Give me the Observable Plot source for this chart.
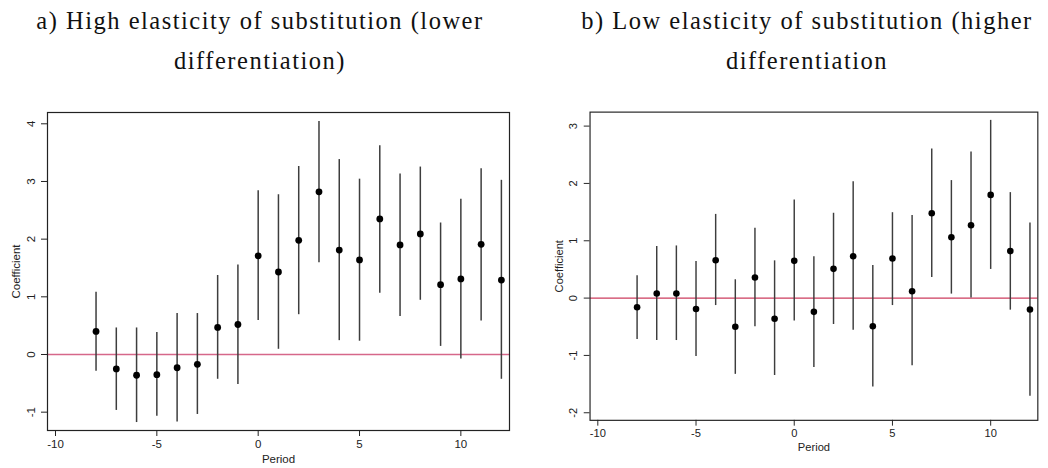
<!DOCTYPE html>
<html>
<head>
<meta charset="utf-8">
<script src="https://cdn.jsdelivr.net/npm/d3@7"></script>
<script src="https://cdn.jsdelivr.net/npm/@observablehq/plot@0.6"></script>
<style>
  html, body { margin: 0; padding: 0; background: #fff; }
  body { width: 1048px; height: 468px; overflow: hidden; position: relative; }
  .title { position: absolute; top: 1px; font-family: "Liberation Serif", serif; font-size: 24.5px;
           line-height: 40px; letter-spacing: 1.5px; text-align: center; color: #111; white-space: nowrap; }
  .panel { position: absolute; top: 100px; }
</style>
</head>
<body>
<div class="title" id="tA" style="left:0px;width:520px;">a) High elasticity of substitution (lower<br>differentiation)</div>
<div class="title" id="tB" style="left:544px;width:526px;">b) Low elasticity of substitution (higher<br>differentiation</div>
<div class="panel" id="pA" style="left:0px;"></div>
<div class="panel" id="pB" style="left:544px;"></div>
<script>
const periods = [-8,-7,-6,-5,-4,-3,-2,-1,0,1,2,3,4,5,6,7,8,9,10,11,12];

// Panel a) High elasticity of substitution
const aEst = [0.40,-0.25,-0.36,-0.35,-0.23,-0.17,0.47,0.52,1.71,1.43,1.98,2.82,1.81,1.64,2.35,1.90,2.09,1.21,1.31,1.91,1.29];
const aLo  = [-0.29,-0.97,-1.18,-1.07,-1.17,-1.04,-0.43,-0.52,0.59,0.09,0.69,1.59,0.24,0.23,1.06,0.66,0.94,0.14,-0.08,0.58,-0.43];
const aHi  = [1.08,0.46,0.46,0.38,0.71,0.71,1.37,1.55,2.84,2.77,3.26,4.04,3.38,3.04,3.62,3.13,3.25,2.28,2.69,3.22,3.02];

// Panel b) Low elasticity of substitution
const bEst = [-0.16,0.08,0.08,-0.19,0.66,-0.50,0.36,-0.36,0.65,-0.24,0.51,0.73,-0.49,0.69,0.12,1.48,1.06,1.27,1.80,0.82,-0.20];
const bLo  = [-0.72,-0.74,-0.74,-1.02,-0.13,-1.33,-0.50,-1.35,-0.40,-1.21,-0.46,-0.56,-1.55,-0.13,-1.18,0.36,0.07,0.00,0.50,-0.21,-1.71];
const bHi  = [0.39,0.90,0.91,0.64,1.46,0.32,1.22,0.65,1.71,0.72,1.48,2.03,0.57,1.49,1.44,2.60,2.05,2.55,3.10,1.84,1.31];

const xTicks = [-10,-5,0,5,10];
const aYTicks = [-1,0,1,2,3,4];
const bYTicks = [-2,-1,0,1,2,3];

function panel(est, lo, hi, yDomain, yTicks, zeroColor, zeroWidth) {
  const data = periods.map((p, i) => ({period: p, est: est[i], lo: lo[i], hi: hi[i]}));
  return Plot.plot({
    width: 520,
    height: 368,
    marginTop: 12,
    marginBottom: 38,
    marginLeft: 47,
    marginRight: 11,
    style: {fontFamily: "Liberation Sans", fontSize: "11.5px", color: "#222", background: "transparent"},
    x: {domain: [-10.395, 12.40]},
    y: {domain: yDomain},
    marks: [
      Plot.ruleY([0], {stroke: zeroColor, strokeWidth: zeroWidth}),
      Plot.ruleX(data, {x: "period", y1: "lo", y2: "hi", stroke: "#3d3d3d", strokeWidth: 1.5}),
      Plot.dot(data, {x: "period", y: "est", r: 3.4, fill: "#000", stroke: "none"}),
      Plot.frame({stroke: "#222", strokeWidth: 1.2}),
      Plot.axisX({ticks: xTicks, tickFormat: d => String(d), tickSize: 6, tickPadding: 3, label: "Period", labelAnchor: "center", labelOffset: 32, labelArrow: "none"}),
      Plot.axisY({ticks: yTicks, tickFormat: d => String(d), tickSize: 6, tickPadding: 7, tickRotate: -90, label: "Coefficient", labelAnchor: "center", labelOffset: 36, labelArrow: "none"})
    ]
  });
}

document.getElementById("pA").appendChild(panel(aEst, aLo, aHi, [-1.318, 4.196], aYTicks, "#d6678a", 1.7));
document.getElementById("pB").appendChild(panel(bEst, bLo, bHi, [-2.132, 3.244], bYTicks, "#cc3c5e", 1.4));
</script>
</body>
</html>
